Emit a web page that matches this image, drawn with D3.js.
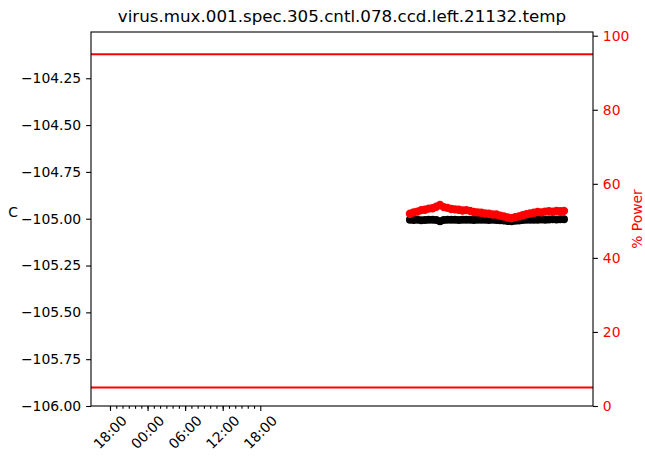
<!DOCTYPE html>
<html>
<head>
<meta charset="utf-8">
<script src="https://cdn.jsdelivr.net/npm/d3@7"></script>
<style>
  body { margin: 0; background: #fff; }
  text { font-family: "DejaVu Sans", sans-serif; }
</style>
</head>
<body>
<svg id="chart" width="645" height="456"></svg>
<script>
var chartTitle = "virus.mux.001.spec.305.cntl.078.ccd.left.21132.temp";

// time axis
var xDomain = ["2024-01-01T14:58Z", "2024-01-04T23:08Z"];
var majorTickTimes = ["2024-01-01T18:00Z", "2024-01-02T00:00Z", "2024-01-02T06:00Z", "2024-01-02T12:00Z", "2024-01-02T18:00Z"];
var majorTickLabels = ["18:00", "00:00", "06:00", "12:00", "18:00"];

// samples (hours after dataStart)
var dataStart = "2024-01-03T17:54Z";
var hoursFromStart = [0, 0.6, 1.2, 1.8, 2.4, 3.0, 3.6, 4.2, 4.8, 5.4, 6.0, 6.6, 7.2, 7.8, 8.4, 9.0, 9.6, 10.2, 10.8, 11.4, 12.0,
    12.6, 13.2, 13.8, 14.4, 15.0, 15.6, 16.2, 16.8, 17.4, 18.0, 18.6, 19.2, 19.8, 20.4, 21.0, 21.6, 22.2, 22.8, 23.4, 24.0, 24.6];
var tempC = [-105.005, -105.007, -105.006, -105.008, -105.007, -105.006, -105.005, -105.007, -105.014, -105.007, -105.006,
    -105.005, -105.006, -105.007, -105.006, -105.005, -105.006, -105.007, -105.006, -105.005, -105.006, -105.007, -105.006,
    -105.007, -105.008, -105.010, -105.012, -105.013, -105.011, -105.009, -105.007, -105.006, -105.005, -105.006, -105.005,
    -105.004, -105.005, -105.004, -105.003, -105.004, -105.003, -105.003];
var powerPct = [51.9, 52.3, 52.5, 52.9, 53.0, 53.3, 53.4, 53.8, 54.3, 53.7, 53.5, 53.2, 53.1, 53.0, 52.8, 52.9, 52.7, 52.4,
    52.3, 52.2, 52.0, 51.9, 51.7, 51.7, 51.4, 51.2, 50.9, 50.7, 51.0, 51.2, 51.5, 51.8, 52.0, 52.2, 52.4, 52.3, 52.5, 52.6,
    52.5, 52.7, 52.6, 52.7];
var limitPct = [5, 95];

var leftTicks = [-104.25, -104.5, -104.75, -105, -105.25, -105.5, -105.75, -106];
var rightTicks = [0, 20, 40, 60, 80, 100];

var plotLeft = 91, plotRight = 593, plotTop = 32, plotBottom = 406;
var svg = d3.select("#chart");

var x = d3.scaleUtc()
    .domain(xDomain.map(function (d) { return new Date(d); }))
    .range([plotLeft, plotRight]);
var yTemp = d3.scaleLinear().domain([-106, -104.003]).range([plotBottom, plotTop]);
var yPow = d3.scaleLinear().domain([0, 101]).range([plotBottom, plotTop]);

var t0 = new Date(dataStart).getTime();
var samples = hoursFromStart.map(function (h, i) {
    return { t: new Date(t0 + h * 3600000), temp: tempC[i], pow: powerPct[i] };
});

// temperature points
svg.append("g").selectAll("circle")
    .data(samples)
    .enter().append("circle")
    .attr("cx", function (d) { return x(d.t); })
    .attr("cy", function (d) { return yTemp(d.temp); })
    .attr("r", 4)
    .attr("fill", "#000");

// power points (twin axis, drawn on top)
svg.append("g").selectAll("circle")
    .data(samples)
    .enter().append("circle")
    .attr("cx", function (d) { return x(d.t); })
    .attr("cy", function (d) { return yPow(d.pow); })
    .attr("r", 4.2)
    .attr("fill", "#ff0000");

// limit lines
svg.append("g").selectAll("line")
    .data(limitPct)
    .enter().append("line")
    .attr("x1", plotLeft).attr("x2", plotRight)
    .attr("y1", function (d) { return yPow(d); })
    .attr("y2", function (d) { return yPow(d); })
    .attr("stroke", "#ff0000")
    .attr("stroke-width", 2.1);

// spines
svg.append("rect")
    .attr("x", plotLeft).attr("y", plotTop)
    .attr("width", plotRight - plotLeft).attr("height", plotBottom - plotTop)
    .attr("fill", "none")
    .attr("stroke", "#000")
    .attr("stroke-width", 1.1);

function styleAxis(g, color) {
    g.select(".domain").remove();
    g.selectAll(".tick line").attr("stroke", "#000").attr("stroke-width", 1.1);
    g.selectAll(".tick text")
        .attr("fill", color)
        .style("font-family", "DejaVu Sans")
        .style("font-size", "13.9px");
}

// left axis
var gLeft = svg.append("g")
    .attr("transform", "translate(" + plotLeft + ",0)")
    .call(d3.axisLeft(yTemp).tickValues(leftTicks).tickSize(4.9).tickPadding(4.9)
        .tickFormat(function (d) { return d.toFixed(2).replace("-", "\u2212"); }));
styleAxis(gLeft, "#000");

// right axis
var gRight = svg.append("g")
    .attr("transform", "translate(" + plotRight + ",0)")
    .call(d3.axisRight(yPow).tickValues(rightTicks).tickSize(4.9).tickPadding(4.9));
styleAxis(gRight, "#ff0000");

// bottom axis: hourly minor ticks + major ticks
var majorDates = majorTickTimes.map(function (d) { return new Date(d); });
var minorDates = d3.utcHour.range(majorDates[0], majorDates[majorDates.length - 1]);
var gMinor = svg.append("g")
    .attr("transform", "translate(0," + plotBottom + ")")
    .call(d3.axisBottom(x).tickValues(minorDates).tickSize(2.8).tickFormat(""));
styleAxis(gMinor, "#000");
var gMajor = svg.append("g")
    .attr("transform", "translate(0," + plotBottom + ")")
    .call(d3.axisBottom(x).tickValues(majorDates).tickSize(4.9).tickFormat(""));
styleAxis(gMajor, "#000");

svg.append("g").selectAll("text")
    .data(majorDates)
    .enter().append("text")
    .attr("transform", function (d) { return "translate(" + x(d) + ",432) rotate(-45)"; })
    .attr("text-anchor", "middle")
    .attr("dominant-baseline", "central")
    .style("font-size", "13.9px")
    .text(function (d, i) { return majorTickLabels[i]; });

// labels
svg.append("text")
    .attr("x", (plotLeft + plotRight) / 2).attr("y", 22)
    .attr("text-anchor", "middle")
    .style("font-size", "16.7px")
    .text(chartTitle);

svg.append("text")
    .attr("x", 13).attr("y", 212)
    .attr("text-anchor", "middle")
    .attr("dominant-baseline", "central")
    .style("font-size", "13.9px")
    .text("C");

svg.append("text")
    .attr("transform", "translate(637," + (plotTop + plotBottom) / 2 + ") rotate(-90)")
    .attr("text-anchor", "middle")
    .attr("dominant-baseline", "central")
    .attr("fill", "#ff0000")
    .style("font-size", "13.9px")
    .text("% Power");
</script>
</body>
</html>
